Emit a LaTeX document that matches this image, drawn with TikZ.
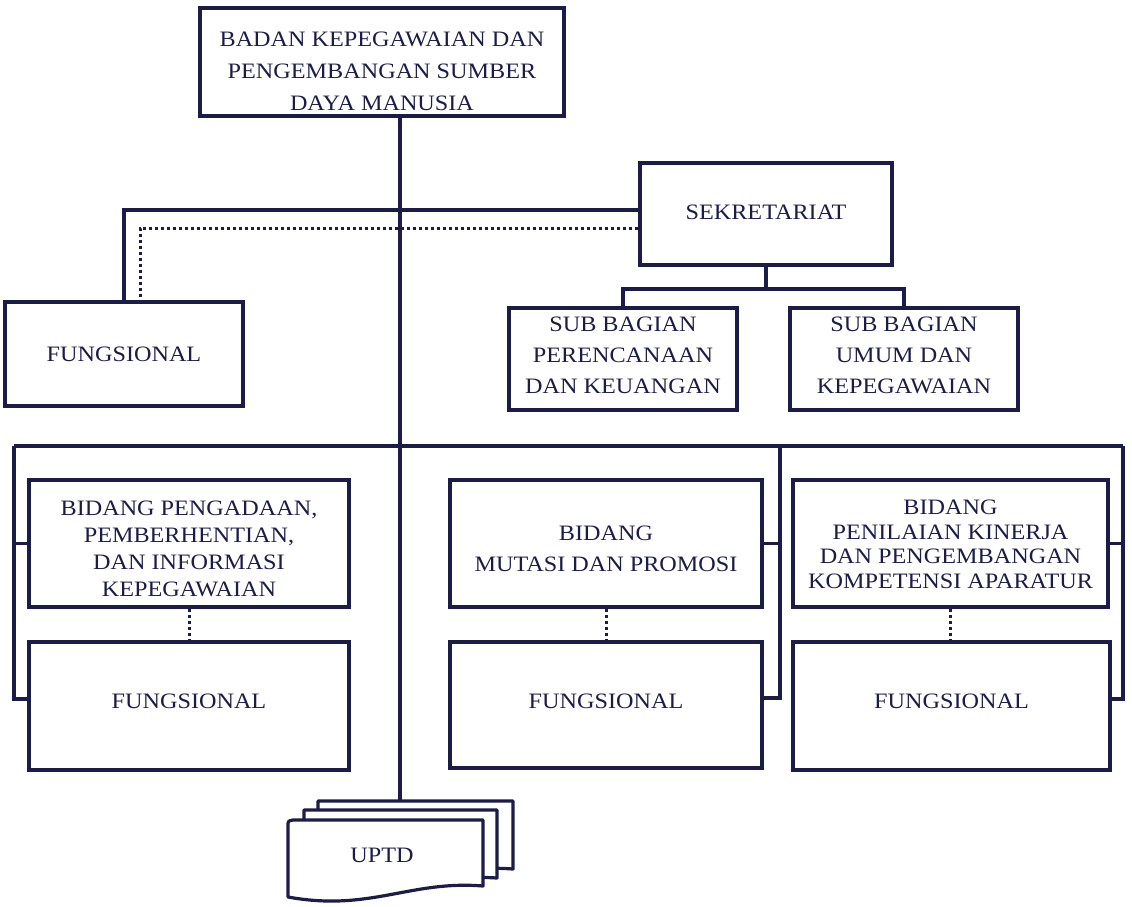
\documentclass[tikz,border=0pt]{standalone}
\usepackage{fontspec}
\setmainfont{Liberation Serif}[FakeStretch=1.1]
\definecolor{ink}{RGB}{28,28,72}
\begin{document}
\begin{tikzpicture}[x=1pt,y=-1pt,
  box/.style={draw=ink, line width=3.2pt, inner sep=0pt, fill=white},
  lbl/.style={align=center, text=ink, inner sep=0pt},
  fa/.style={font=\fontsize{22}{32}\selectfont},
  fb/.style={font=\fontsize{22}{27}\selectfont},
  fc/.style={font=\fontsize{22}{24.5}\selectfont},
  fd/.style={font=\fontsize{22}{31}\selectfont},
  conn/.style={draw=ink, line width=3.2pt},
  dots/.style={draw=ink, line width=3pt, dash pattern=on 3pt off 3pt}]
\fill[white] (0,0) rectangle (1132,907);
\useasboundingbox (0,0) rectangle (1132,907);

% boxes
\node[box,minimum width=364pt,minimum height=108pt] (top) at (382,62) {};
\node[box,minimum width=252pt,minimum height=102pt] (sek) at (766,214) {};
\node[box,minimum width=238pt,minimum height=104pt] (fung0) at (124,354) {};
\node[box,minimum width=228pt,minimum height=102pt] (sb1) at (623,359) {};
\node[box,minimum width=228pt,minimum height=102pt] (sb2) at (904,359) {};
\node[box,minimum width=320pt,minimum height=127pt] (bid1) at (189,543.5) {};
\node[box,minimum width=320pt,minimum height=128pt] (fung1) at (189,706) {};
\node[box,minimum width=312pt,minimum height=127pt] (bid2) at (606,543.5) {};
\node[box,minimum width=312pt,minimum height=126pt] (fung2) at (606,705) {};
\node[box,minimum width=315pt,minimum height=127pt] (bid3) at (950.5,543.5) {};
\node[box,minimum width=317pt,minimum height=128pt] (fung3) at (951.5,706) {};

% labels
\node[lbl,fa] (ttop) at ([yshift=-9pt]top.center) {BADAN KEPEGAWAIAN DAN\\PENGEMBANGAN SUMBER\\DAYA MANUSIA};
\node[lbl,fa] (tsek) at ([yshift=2pt]sek.center) {SEKRETARIAT};
\node[lbl,fa] (tfung0) at (fung0.center) {FUNGSIONAL};
\node[lbl,fd] (tsb1) at ([yshift=4pt]sb1.center) {SUB BAGIAN\\PERENCANAAN\\DAN KEUANGAN};
\node[lbl,fd] (tsb2) at ([yshift=4pt]sb2.center) {SUB BAGIAN\\UMUM DAN\\KEPEGAWAIAN};
\node[lbl,fb] (tbid1) at ([yshift=-5pt]bid1.center) {BIDANG PENGADAAN,\\PEMBERHENTIAN,\\DAN INFORMASI\\KEPEGAWAIAN};
\node[lbl,fa] (tfung1) at ([yshift=5pt]fung1.center) {FUNGSIONAL};
\node[lbl,fd] (tbid2) at ([yshift=-5pt]bid2.center) {BIDANG\\MUTASI DAN PROMOSI};
\node[lbl,fa] (tfung2) at ([yshift=4pt]fung2.center) {FUNGSIONAL};
\node[lbl,fc] (tbid3) at ([yshift=-1pt]bid3.center) {BIDANG\\PENILAIAN KINERJA\\DAN PENGEMBANGAN\\KOMPETENSI APARATUR};
\node[lbl,fa] (tfung3) at ([yshift=5pt]fung3.center) {FUNGSIONAL};

% coordinates
\coordinate (uptd) at (400,801);
\coordinate (sbj) at (766,289);
\coordinate (busL) at (14,446);
\coordinate (busM) at (780,446);
\coordinate (busR) at (1123,446);

% main spine
\draw[conn] (top.south -| uptd) -- (uptd);

% sekretariat to fungsional
\draw[conn] ([yshift=4pt]sek.west) -| (fung0.north);
\draw[dots] ([yshift=-14pt]sek.west) -| ([xshift=16pt]fung0.north);

% sekretariat to sub bagian
\draw[conn] (sek.south) -- (sbj);
\draw[conn] (sb1.north) |- (sbj) -| (sb2.north);

% bus
\draw[conn] (busL) -- (busR);
\draw[conn] (busL) |- ([yshift=7pt]fung1.west);
\draw[conn] (bid1.west) -- (bid1.west -| busL);
\draw[conn] (busM) |- ([yshift=7pt]fung2.east);
\draw[conn] (bid2.east) -- (bid2.east -| busM);
\draw[conn] (busR) |- ([yshift=7pt]fung3.east);
\draw[conn] (bid3.east) -- (bid3.east -| busR);

% dotted bidang - fungsional
\draw[dots] (bid1.south) -- (fung1.north);
\draw[dots] (bid2.south) -- (bid2.south |- fung2.north);
\draw[dots] (bid3.south) -- (bid3.south |- fung3.north);

% UPTD stack
\draw[conn, fill=white, line join=round] (318,801) -- (513,801) -- (513,869) .. controls (470,866) and (430,872) .. (318,869) -- cycle;
\draw[conn, fill=white, line join=round] (304,810) -- (497,810) -- (497,878) .. controls (450,875) and (410,885) .. (304,878) -- cycle;
\draw[conn, fill=white, line join=round] (288,826) .. controls (288,821) .. (293,820) -- (483,820) -- (483,886) .. controls (410,880) and (370,912) .. (288,897) -- cycle;
\node[lbl, font=\fontsize{22}{24}\selectfont] (uptdlbl) at (382,855) {UPTD};
\end{tikzpicture}
\end{document}
